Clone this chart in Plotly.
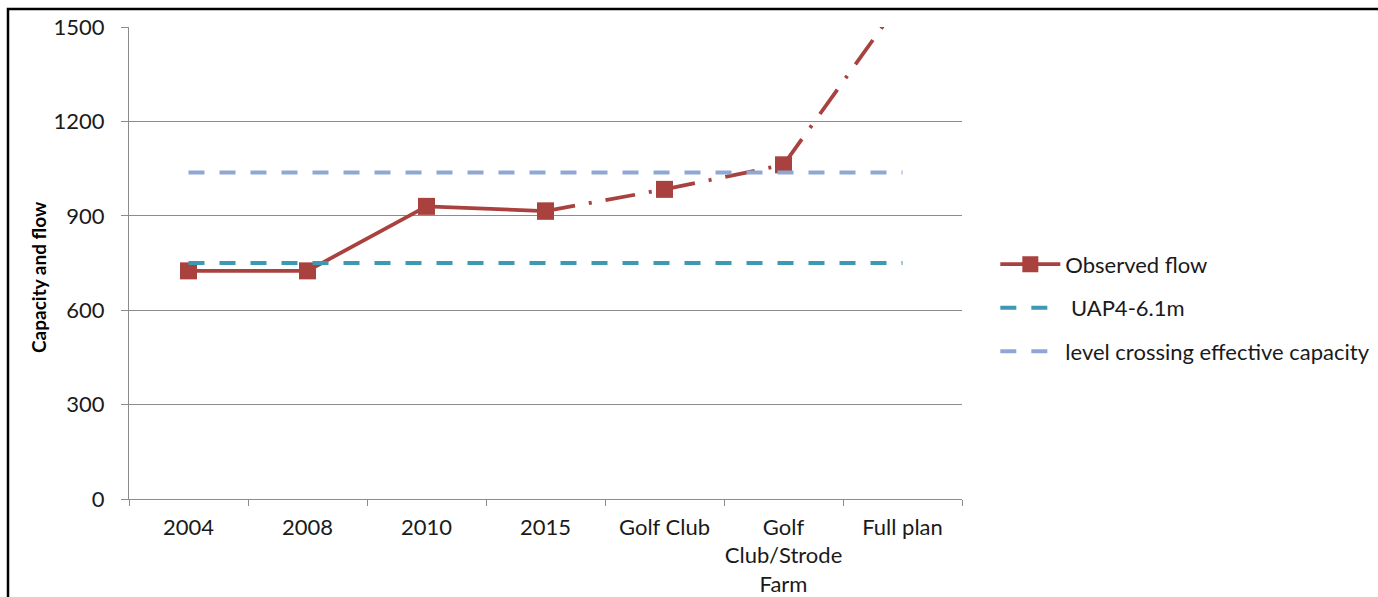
import plotly.graph_objects as go

# Categories and series values
categories = ["2004", "2008", "2010", "2015", "Golf Club",
              "Golf<br>Club/Strode<br>Farm", "Full plan"]
observed_flow = [725, 725, 930, 915, 984, 1062, 1590]
uap4_capacity = [750] * 7
level_crossing_capacity = [1038] * 7
y_ticks = [0, 300, 600, 900, 1200, 1500]

RED = "#A9413E"
TEAL = "#3B9AB2"
LIGHT_BLUE = "#8EA8D3"
GRID = "#8C8C8C"
FONT = "Lato, Open Sans, sans-serif"
TEXT = "#1a1a1a"

fig = go.Figure()

# Observed flow: solid up to 2015, dash-dot beyond
fig.add_trace(go.Scatter(
    x=categories[:4], y=observed_flow[:4], name="Observed flow",
    mode="lines+markers",
    line=dict(color=RED, width=3.8),
    marker=dict(symbol="square", size=17, color=RED),
    legendgroup="a",
))
fig.add_trace(go.Scatter(
    x=categories[3:], y=observed_flow[3:], name="Observed flow",
    mode="lines+markers", showlegend=False,
    line=dict(color=RED, width=3.8, dash="30px,14px,3px,14px"),
    marker=dict(symbol="square", size=17, color=RED),
    legendgroup="a",
))
fig.add_trace(go.Scatter(
    x=categories, y=uap4_capacity, name=" UAP4-6.1m",
    mode="lines", line=dict(color=TEAL, width=4, dash="16px,15px"),
    legendgroup="b",
))
fig.add_trace(go.Scatter(
    x=categories, y=level_crossing_capacity,
    name="level crossing effective capacity",
    mode="lines", line=dict(color=LIGHT_BLUE, width=4, dash="16px,15px"),
    legendgroup="c",
))

fig.update_layout(
    width=1378, height=597,
    margin=dict(l=129, r=416, t=27, b=98, autoexpand=False),
    plot_bgcolor="white", paper_bgcolor="white",
    font=dict(family=FONT, size=22, color=TEXT),
    showlegend=True,
    legend=dict(
        x=1.04, y=0.405, xanchor="left", yanchor="middle",
        font=dict(size=22, color=TEXT),
        tracegroupgap=12, itemwidth=60,
    ),
    xaxis=dict(
        type="category", range=[-0.5, 6.5],
        tickson="boundaries", ticks="outside", ticklen=6,
        tickcolor=GRID, showgrid=False, tickangle=0, automargin=False,
        showline=True, linecolor=GRID, linewidth=1.2,
        tickfont=dict(size=22), ticklabelstandoff=8,
    ),
    yaxis=dict(
        range=[0, 1500], tickvals=y_ticks, automargin=False,
        ticks="outside", ticklen=7, tickcolor=GRID,
        showgrid=True, gridcolor=GRID, gridwidth=1,
        showline=True, linecolor=GRID, linewidth=1.2,
        zeroline=False, tickfont=dict(size=22), ticklabelstandoff=12,
    ),
    annotations=[dict(
        text="<b>Capacity and flow</b>", textangle=-90,
        xref="paper", yref="paper",
        x=(38 - 129) / 833, y=(499 - 277) / 472,
        xanchor="center", yanchor="middle", showarrow=False,
        font=dict(size=19, color="black"),
    )],
    shapes=[dict(
        type="rect", xref="paper", yref="paper",
        x0=(8 - 129) / 833, x1=2.0, y0=-1.0, y1=(499 - 9) / 472,
        line=dict(color="black", width=2.5), fillcolor="rgba(0,0,0,0)",
        layer="above",
    )],
)

fig.write_html("out.html")
